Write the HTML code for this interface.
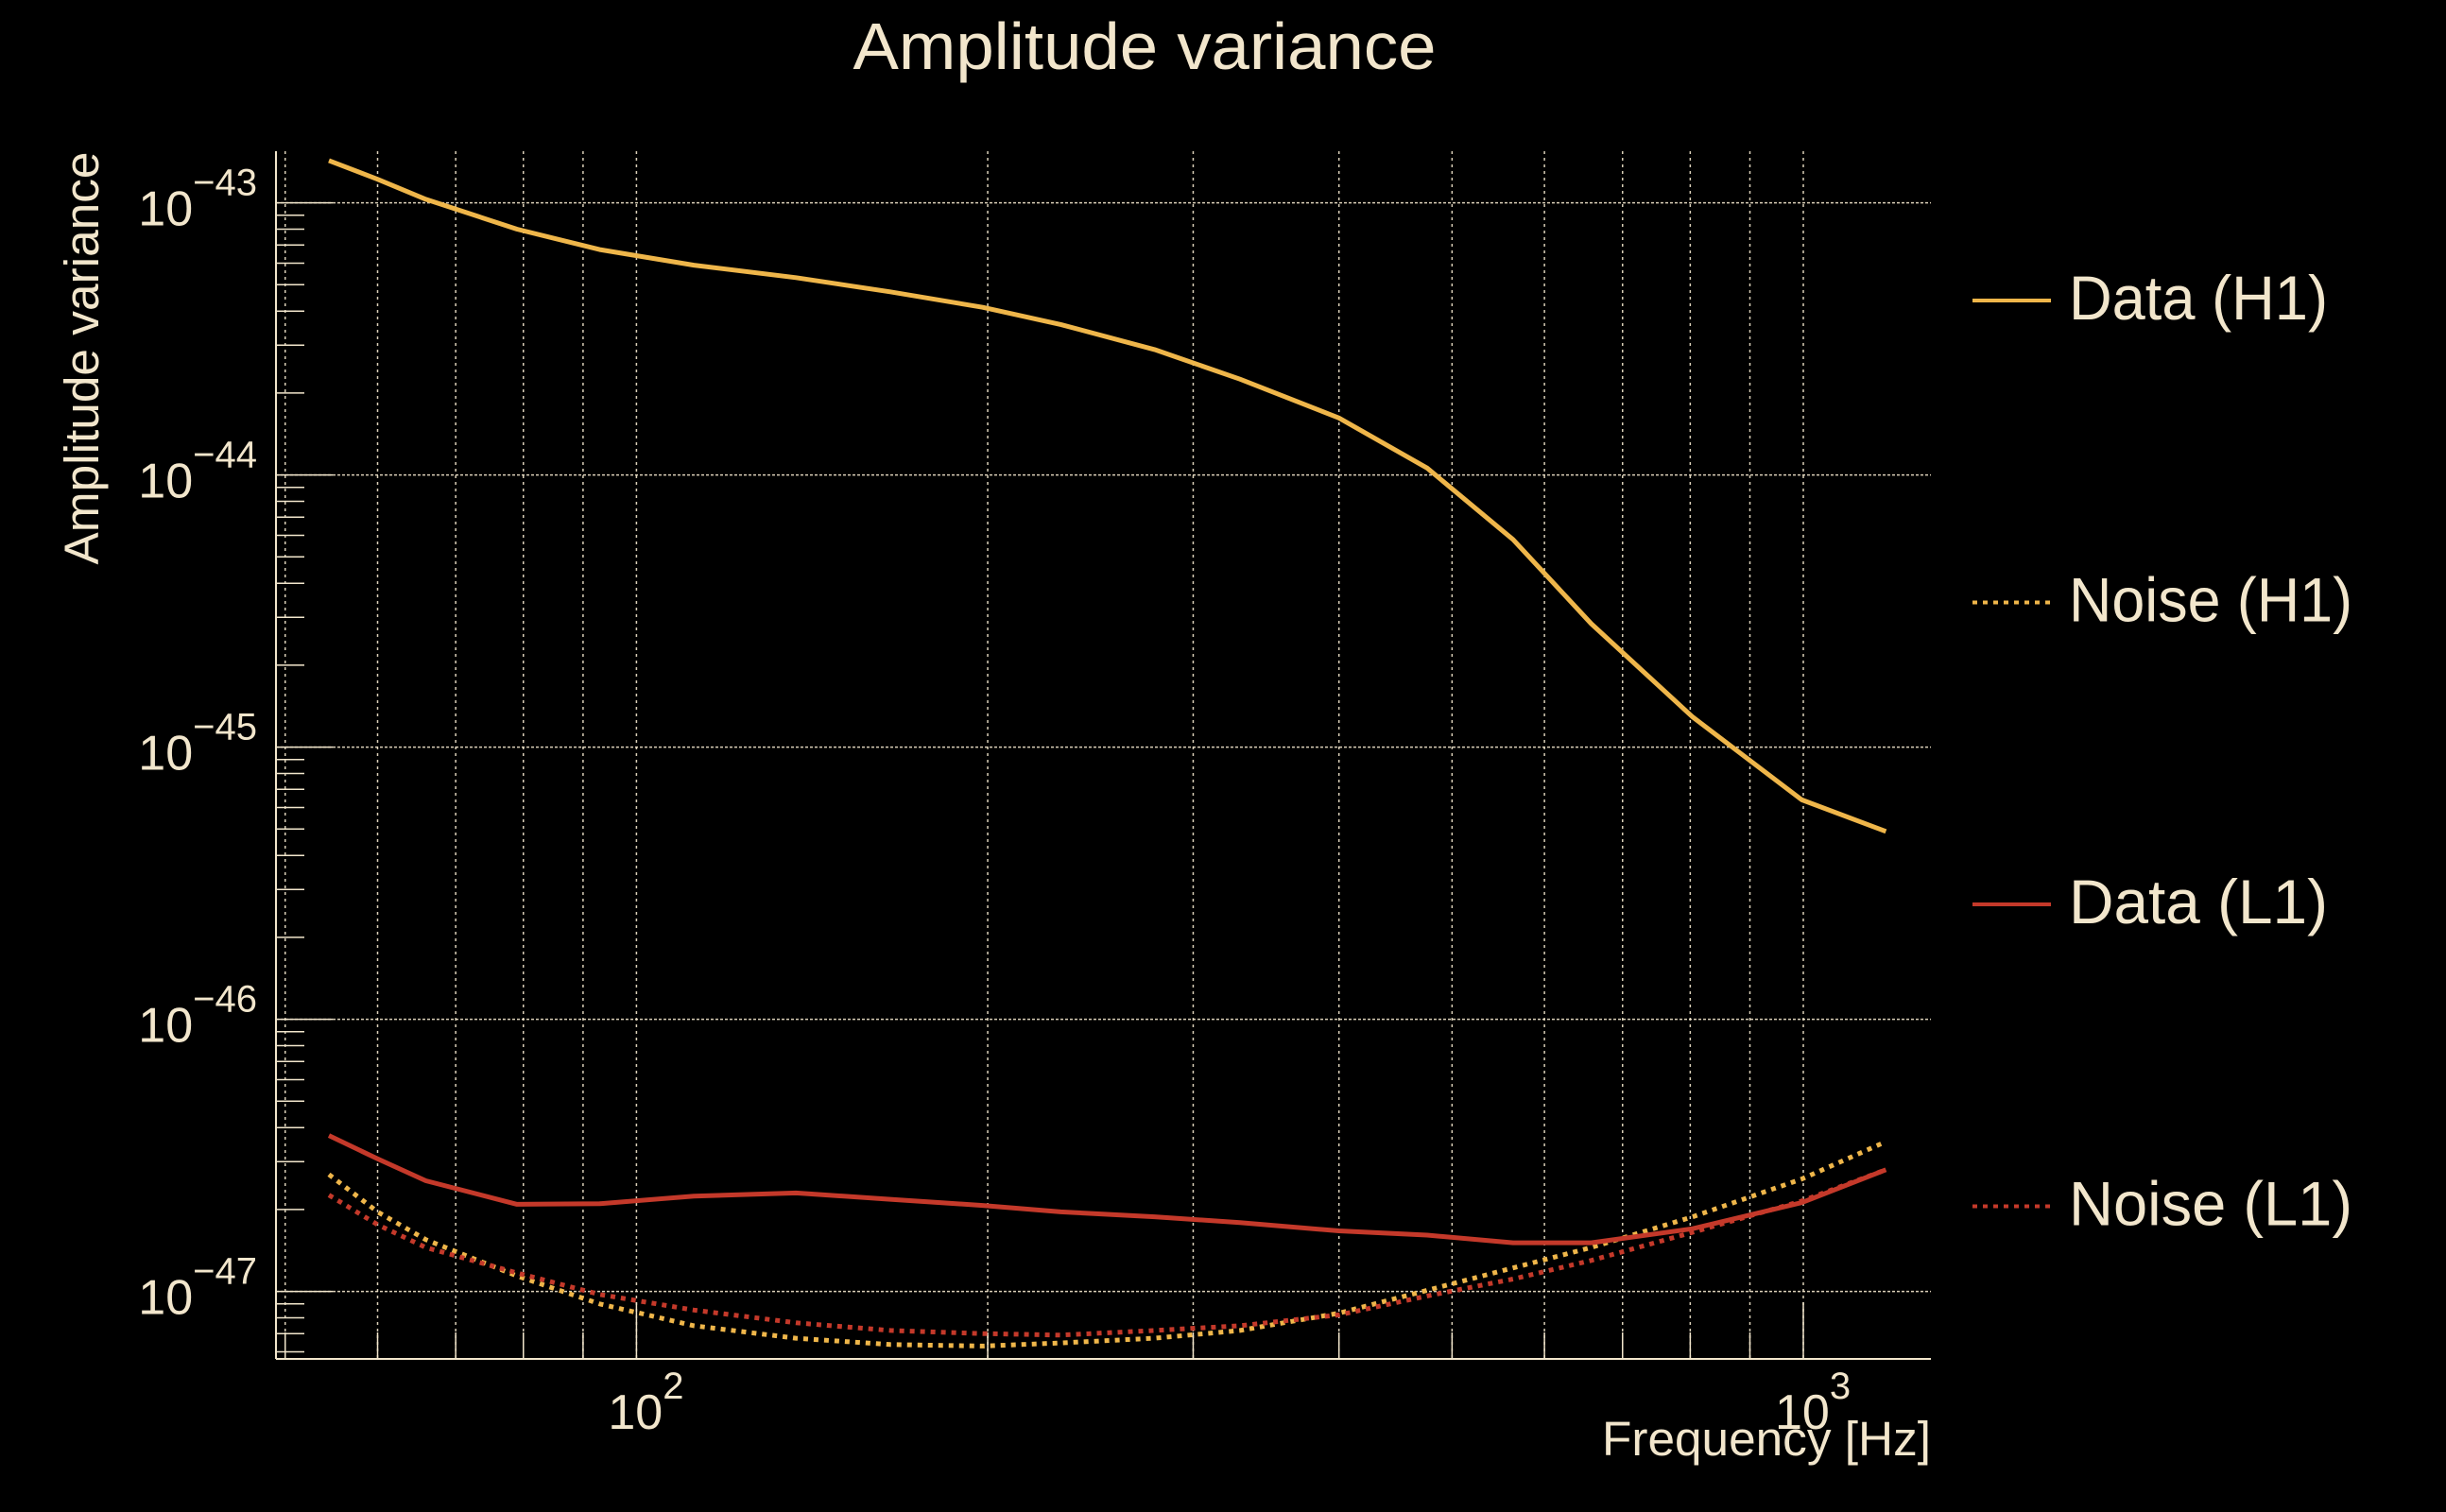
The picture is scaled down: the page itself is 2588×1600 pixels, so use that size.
<!DOCTYPE html>
<html><head><meta charset="utf-8"><style>
html,body{margin:0;padding:0;background:#000;}
svg{display:block;}
text{font-family:"Liberation Sans",sans-serif;fill:#f2e6cc;}
</style></head><body>
<svg id="chart" width="2588" height="1600" viewBox="0 0 2588 1600" xmlns="http://www.w3.org/2000/svg">
<rect width="2588" height="1600" fill="#000"/>
<text x="1211" y="73" font-size="70" text-anchor="middle" textLength="617" lengthAdjust="spacingAndGlyphs">Amplitude variance</text>
<text transform="translate(104,379) rotate(-90)" font-size="51" text-anchor="middle" textLength="437" lengthAdjust="spacingAndGlyphs">Amplitude variance</text>
<text x="2043" y="1540" font-size="51" text-anchor="end" textLength="348" lengthAdjust="spacingAndGlyphs">Frequency [Hz]</text>
<g id="grid"></g>
<g id="axes"></g>
<g id="series"></g>
<g id="legend"></g>
</svg>
<script>
const freqs = [54.5,60,66,79,93,112,137,165,198,231,278,329,400,476,564,658,804,997,1177];
const dataH1 = [1.43e-43,1.22e-43,1.03e-43,8.0e-44,6.73e-44,5.9e-44,5.31e-44,4.71e-44,4.13e-44,3.57e-44,2.89e-44,2.25e-44,1.62e-44,1.06e-44,5.79e-45,2.84e-45,1.29e-45,6.4e-46,4.9e-46];
const noiseH1 = [2.69e-47,1.96e-47,1.55e-47,1.14e-47,9.0e-48,7.48e-48,6.73e-48,6.38e-48,6.3e-48,6.47e-48,6.73e-48,7.19e-48,8.32e-48,1.01e-47,1.22e-47,1.45e-47,1.88e-47,2.59e-47,3.55e-47];
const dataL1 = [3.74e-47,3.07e-47,2.55e-47,2.09e-47,2.1e-47,2.24e-47,2.3e-47,2.18e-47,2.07e-47,1.96e-47,1.88e-47,1.79e-47,1.67e-47,1.61e-47,1.51e-47,1.51e-47,1.70e-47,2.12e-47,2.80e-47];
const noiseL1 = [2.26e-47,1.76e-47,1.45e-47,1.17e-47,9.75e-48,8.54e-48,7.67e-48,7.19e-48,7.0e-48,6.91e-48,7.19e-48,7.48e-48,8.2e-48,9.62e-48,1.11e-47,1.30e-47,1.65e-47,2.15e-47,2.80e-47];
const yTickExps = [-43,-44,-45,-46,-47];
const xTickExps = [2,3];
const legendLabels = ["Data (H1)","Noise (H1)","Data (L1)","Noise (L1)"];

const NS="http://www.w3.org/2000/svg";
const L=292,R=2043,T=160,B=1438;
const CREAM="#f2e6cc", YEL="#efb64a", RED="#c4392a";
function xs(f){return 673.4+(Math.log10(f)-2)*1234.6;}
function ys(v){return 214.6+(-43-Math.log10(v))*288;}
function mk(tag,attrs,parent){const e=document.createElementNS(NS,tag);for(const k in attrs)e.setAttribute(k,attrs[k]);parent.appendChild(e);return e;}
const grid=document.getElementById('grid'),axes=document.getElementById('axes'),series=document.getElementById('series'),legend=document.getElementById('legend');

for(let d=1;d<=3;d++){for(let m=1;m<=9;m++){const f=m*Math.pow(10,d);const x=xs(f);if(x<L+2||x>R)continue;
 const g=mk('line',{x1:x,x2:x,y1:T,y2:B,stroke:CREAM,'stroke-width':1.5,'stroke-dasharray':'3 4','stroke-opacity':0.9},grid);
 
 
 const t=mk('line',{x1:x,x2:x,y1:B,y2:B-(m===1?60:28),stroke:CREAM,'stroke-width':1.5},axes);
 
 
}}
for(let e=-48;e<=-43;e++){for(let m=1;m<=9;m++){const v=m*Math.pow(10,e);const y=ys(v);if(y<T||y>B)continue;
 if(m===1){const g=mk('line',{x1:L,x2:R,y1:y,y2:y,stroke:CREAM,'stroke-width':1.5,'stroke-dasharray':'3 2','stroke-opacity':0.9},grid);
  
  }
 const t=mk('line',{x1:L,x2:L+(m===1?60:30),y1:y,y2:y,stroke:CREAM,'stroke-width':1.5},axes);
 
 
}}
mk('line',{x1:L,x2:L,y1:T,y2:B,stroke:CREAM,'stroke-width':2},axes);
mk('line',{x1:L,x2:R,y1:B,y2:B,stroke:CREAM,'stroke-width':2},axes);

yTickExps.forEach(e=>{const y=ys(Math.pow(10,e));
 const t=mk('text',{x:272,y:y+24,'font-size':52,'text-anchor':'end'},axes);
 
 
 t.innerHTML='10<tspan dy="-32" font-size="40">\u2212'+(-e)+'</tspan>';
});
xTickExps.forEach(e=>{const x=xs(Math.pow(10,e));
 const t=mk('text',{x:x-30,y:1512,'font-size':52},axes);
 
 
 t.innerHTML='10<tspan dy="-32" font-size="40">'+e+'</tspan>';
});

const defs=[
 {vals:dataH1,color:YEL,dash:null,name:'data-h1-line'},
 {vals:noiseH1,color:YEL,dash:'5 6',name:'noise-h1-line'},
 {vals:dataL1,color:RED,dash:null,name:'data-l1-line'},
 {vals:noiseL1,color:RED,dash:'5 6',name:'noise-l1-line'}];
defs.forEach((s,i)=>{
 const pts=freqs.map((f,j)=>xs(f).toFixed(1)+','+ys(s.vals[j]).toFixed(1)).join(' ');
 const a={points:pts,fill:'none',stroke:s.color,'stroke-width':5,'stroke-linejoin':'round'};
 if(s.dash)a['stroke-dasharray']=s.dash;
 const p=mk('polyline',a,series);
 
 
 const ly=318+i*319.5;
 const la={x1:2087,x2:2170,y1:ly,y2:ly,stroke:s.color,'stroke-width':4};
 if(s.dash)la['stroke-dasharray']='5 6';
 const ln=mk('line',la,legend);
 
 
 const tx=mk('text',{x:2189,y:ly+20,'font-size':66,textLength:(i%2?300:274),lengthAdjust:'spacingAndGlyphs'},legend);
 tx.textContent=legendLabels[i];
 
 
});
</script>
</body></html>
